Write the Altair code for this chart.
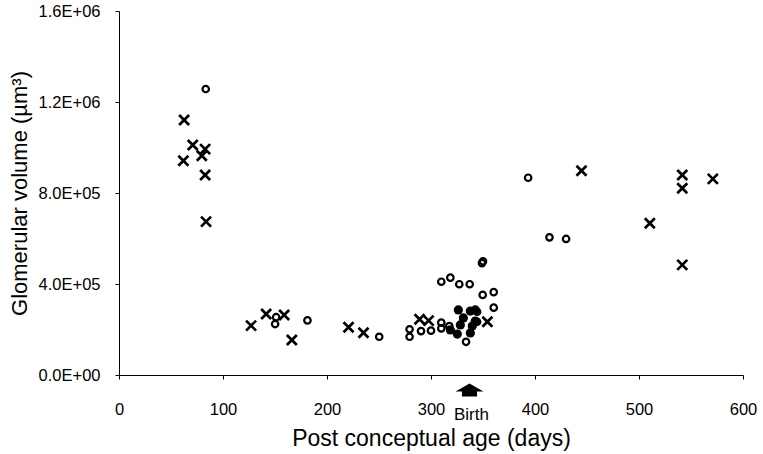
import altair as alt
import pandas as pd

# --- data (days post conception, glomerular volume um^3) ---
cross_age = [62.6, 70.9, 82.8, 79.6, 61.9, 82.8, 83.7, 127.0, 141.5, 158.8, 166.2,
             220.7, 235.1, 289.0, 297.7, 354.2, 444.7, 541.6, 541.6, 571.0, 510.4, 541.6]
cross_vol = [1.121e6, 1.011e6, 0.993e6, 0.964e6, 0.942e6, 0.879e6, 0.674e6, 2.17e5, 2.68e5,
             2.64e5, 1.54e5, 2.10e5, 1.86e5, 2.45e5, 2.39e5, 2.34e5, 0.898e6, 0.879e6,
             0.821e6, 0.862e6, 0.667e6, 0.484e6]

open_age = [83.4, 151.1, 150.1, 181.2, 250.2, 279.4, 279.4, 290.4, 300.0, 309.9, 309.9,
            317.6, 309.9, 318.6, 327.2, 337.2, 349.0, 350.0, 349.7, 360.3, 360.3, 333.7,
            344.3, 344.3, 393.4, 413.9, 429.9]
open_vol = [1.257e6, 2.54e5, 2.24e5, 2.40e5, 1.68e5, 2.01e5, 1.68e5, 1.93e5, 1.95e5, 2.30e5,
            2.05e5, 2.15e5, 4.10e5, 4.28e5, 3.99e5, 3.99e5, 4.92e5, 5.00e5, 3.52e5, 3.64e5,
            2.96e5, 1.46e5, 2.78e5, 2.34e5, 8.67e5, 6.05e5, 5.98e5]

filled_age = [318.6, 325.3, 326.3, 331.1, 328.2, 337.8, 342.6, 337.8, 339.7, 342.6]
filled_vol = [1.98e5, 1.80e5, 2.86e5, 2.51e5, 2.20e5, 2.81e5, 2.86e5, 1.85e5, 2.15e5, 2.37e5]

birth_age = [337]
birth_text = ["Birth"]

x_ticks = [0, 100, 200, 300, 400, 500, 600]
y_ticks = [0, 400000, 800000, 1200000, 1600000]

points = pd.concat([
    pd.DataFrame({"age": open_age, "vol": open_vol, "group": "open"}),
    pd.DataFrame({"age": filled_age, "vol": filled_vol, "group": "filled"}),
    pd.DataFrame({"age": cross_age, "vol": cross_vol, "group": "cross"}),
], ignore_index=True)
birth = pd.DataFrame({"age": birth_age, "label": birth_text})

FONT = "Liberation Sans"

x_enc = alt.X(
    "age:Q",
    scale=alt.Scale(domain=[0, 600], nice=False, zero=False),
    axis=alt.Axis(
        values=x_ticks, title="Post conceptual age (days)", grid=False,
        labelFlush=False, labelOverlap=False,
        domainColor="black", tickColor="black", tickSize=4, labelPadding=22,
        labelFontSize=16.5, labelColor="black", labelFont=FONT,
        titleFontSize=23, titleFont=FONT, titleFontWeight="normal", titleColor="black",
        titlePadding=10,
    ),
)
y_enc = alt.Y(
    "vol:Q",
    scale=alt.Scale(domain=[0, 1600000], nice=False),
    axis=alt.Axis(
        values=y_ticks, title="Glomerular volume (µm³)", grid=False,
        labelFlush=False, labelOverlap=False,
        labelExpr="datum.value == 0 ? '0.0E+00' : format(datum.value / pow(10, floor(log(datum.value)/LN10 + 1e-9)), '.1f') + 'E+' + (floor(log(datum.value)/LN10 + 1e-9) < 10 ? '0' : '') + floor(log(datum.value)/LN10 + 1e-9)",
        domainColor="black", tickColor="black", tickSize=4, labelPadding=15,
        labelFontSize=16.5, labelColor="black", labelFont=FONT,
        titleFontSize=22, titleFont=FONT, titleFontWeight="normal", titleColor="black",
        titlePadding=7,
    ),
)

base = alt.Chart(points).encode(x=x_enc, y=y_enc)

open_layer = base.transform_filter(alt.datum.group == "open").mark_point(
    shape="circle", filled=False, color="black", strokeWidth=2.2, size=42, opacity=1
)
filled_layer = base.transform_filter(alt.datum.group == "filled").mark_point(
    shape="circle", filled=True, color="black", size=85, opacity=1
)
cross_layer = base.transform_filter(alt.datum.group == "cross").mark_point(
    shape="M-1,-1L1,1M-1,1L1,-1", filled=False, color="black", strokeWidth=2.7,
    size=100, opacity=1
)

arrow = alt.Chart(birth).mark_point(
    shape="M0,-0.46L1,0.11L0.54,0.11L0.54,0.46L-0.54,0.46L-0.54,0.11L-1,0.11Z",
    filled=True, color="black", size=784, opacity=1
).encode(x=x_enc, y=alt.value(379))

birth_label = alt.Chart(birth).mark_text(
    font=FONT, fontSize=17, color="black", baseline="middle", align="center", dx=2
).encode(x=x_enc, y=alt.value(404), text="label:N")

chart = alt.layer(open_layer, filled_layer, cross_layer, arrow, birth_label).properties(
    width=624, height=364,
    autosize=alt.AutoSizeParams(type="none"),
    padding={"left": 119, "top": 11, "right": 20, "bottom": 79},
    background="white",
).configure_view(stroke=None)

chart.save("out.html", embed_options={"renderer": "svg", "actions": False})
